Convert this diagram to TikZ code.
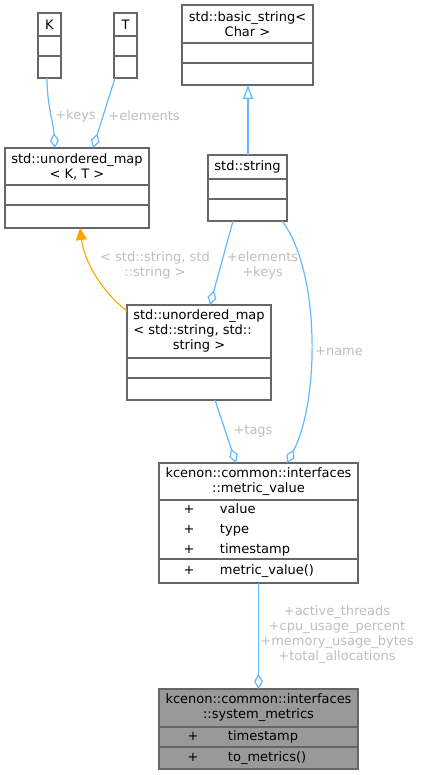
\documentclass[tikz,border=0pt]{standalone}
\usepackage{fontspec}
\setmainfont{DejaVu Sans}
\usetikzlibrary{positioning, arrows.meta}

\definecolor{edgeblue}{HTML}{63B8FF}
\definecolor{tmplorange}{HTML}{FFA500}
\definecolor{boxgray}{HTML}{666666}
\definecolor{labelgray}{HTML}{BEBEBE}
\definecolor{focusgray}{HTML}{999999}

\begin{document}
\begin{tikzpicture}[x=1pt, y=-1pt, node distance=0pt,
  every node/.style={font=\fontsize{13}{15}\selectfont, inner sep=0pt, outer sep=0pt},
  cls/.style={draw=boxgray, line width=1.1pt, fill=white, align=center},
  members/.style={cls, align=left, font=\fontsize{13}{20}\selectfont},
  lbl/.style={text=labelgray, align=center},
  agg/.style={draw=edgeblue, line width=1.2pt, -{Diamond[open, length=15pt, width=9pt]}},
  inherit/.style={draw=edgeblue, line width=1.3pt, -{Triangle[open, length=14pt, width=10pt]}},
  tmpl/.style={draw=tmplorange, line width=1.1pt, -{Triangle[length=12pt, width=11pt]}}]
 \useasboundingbox (0,0) rectangle (420,775);

 \node[cls, minimum width=23pt, minimum height=23pt, anchor=north west] (K) at (38,13) {K};
 \node[cls, minimum width=23pt, minimum height=20pt, below=of K] (Ka) {};
 \node[cls, minimum width=23pt, minimum height=22pt, below=of Ka] (Kb) {};

 \node[cls, minimum width=23pt, minimum height=23pt, anchor=north west] (T) at (114,13) {T};
 \node[cls, minimum width=23pt, minimum height=20pt, below=of T] (Ta) {};
 \node[cls, minimum width=23pt, minimum height=22pt, below=of Ta] (Tb) {};

 \node[cls, minimum width=144pt, minimum height=37pt, anchor=north west] (mapKT) at (5,148) {std::unordered\_map\\< K, T >};
 \node[cls, minimum width=144pt, minimum height=20pt, below=of mapKT] (mapKTa) {};
 \node[cls, minimum width=144pt, minimum height=23pt, below=of mapKTa] (mapKTb) {};

 \node[cls, minimum width=131pt, minimum height=38pt, anchor=north west] (basicString) at (182,5) {std::basic\_string<\\Char >};
 \node[cls, minimum width=131pt, minimum height=20pt, below=of basicString] (basicStringa) {};
 \node[cls, minimum width=131pt, minimum height=22pt, below=of basicStringa] (basicStringb) {};

 \node[cls, minimum width=79pt, minimum height=24pt, anchor=north west] (stdString) at (208,155) {std::string};
 \node[cls, minimum width=79pt, minimum height=20pt, below=of stdString] (stdStringa) {};
 \node[cls, minimum width=79pt, minimum height=22pt, below=of stdStringa] (stdStringb) {};

 \node[cls, minimum width=144pt, minimum height=53pt, anchor=north west] (mapSS) at (127,305)
   {\begin{tabular}{@{}l@{}}std::unordered\_map\\< std::string, std::\\\multicolumn{1}{@{}c@{}}{string >}\end{tabular}};
 \node[cls, minimum width=144pt, minimum height=20pt, below=of mapSS] (mapSSa) {};
 \node[cls, minimum width=144pt, minimum height=22pt, below=of mapSSa] (mapSSb) {};

 \node[cls, minimum width=199pt, minimum height=37pt, anchor=north west] (metricValue) at (159,463) {kcenon::common::interfaces\\::metric\_value};
 \node[members, text width=150pt, inner xsep=24.5pt, minimum height=59pt, below=of metricValue] (metricValuea)
   {+\hspace{25.6pt}value\\+\hspace{25.6pt}type\\+\hspace{25.6pt}timestamp};
 \node[members, text width=150pt, inner xsep=24.5pt, minimum height=24pt, below=of metricValuea] (metricValueb)
   {+\hspace{25.6pt}metric\_value()};

 \node[cls, fill=focusgray, minimum width=199pt, minimum height=38pt, anchor=north west] (systemMetrics) at (159,689) {kcenon::common::interfaces\\::system\_metrics};
 \node[members, fill=focusgray, text width=142pt, inner xsep=28.5pt, minimum height=20pt, below=of systemMetrics] (systemMetricsa)
   {+\hspace{29.6pt}timestamp};
 \node[members, fill=focusgray, text width=142pt, inner xsep=28.5pt, minimum height=22pt, below=of systemMetricsa] (systemMetricsb)
   {+\hspace{29.6pt}to\_metrics()};

 \draw[agg] ([xshift=-2.5pt]Kb.south) .. controls (47,105) and (53,120) .. ([xshift=-22pt]mapKT.north);
 \draw[agg] ([xshift=-10.5pt]Tb.south) -- ([xshift=16pt]mapKT.north);
 \draw[inherit] ([xshift=0.5pt]stdString.north) -- ([xshift=0.5pt]basicStringb.south);
 \draw[tmpl] ([yshift=-6pt]mapSS.north west) .. controls (100,290) and (84,260) .. ([xshift=3pt]mapKTb.south);
 \draw[agg] ([xshift=-14.5pt]stdStringb.south) -- ([xshift=11pt]mapSS.north);
 \draw[agg] ([xshift=34.5pt]stdStringb.south) .. controls (320,270) and (320,400) .. ([xshift=28.5pt]metricValue.north);
 \draw[agg] ([xshift=16pt]mapSSb.south) -- ([xshift=-22.5pt]metricValue.north);
 \draw[agg] (metricValueb.south) -- (systemMetrics.north);

 \node[lbl] (keysLbl) at (75.5,116) {+keys};
 \node[lbl] (elementsLbl) at (144,116) {+elements};
 \node[lbl] (tmplLbl) at (155,265.5) {< std::string, std\\::string >};
 \node[lbl] (elemKeysLbl) at (262.5,265.5) {+elements\\+keys};
 \node[lbl] (nameLbl) at (339,352) {+name};
 \node[lbl] (tagsLbl) at (253,431) {+tags};
 \node[lbl] (metricsLbl) at (337,634.5) {+active\_threads\\+cpu\_usage\_percent\\+memory\_usage\_bytes\\+total\_allocations};
\end{tikzpicture}
\end{document}
